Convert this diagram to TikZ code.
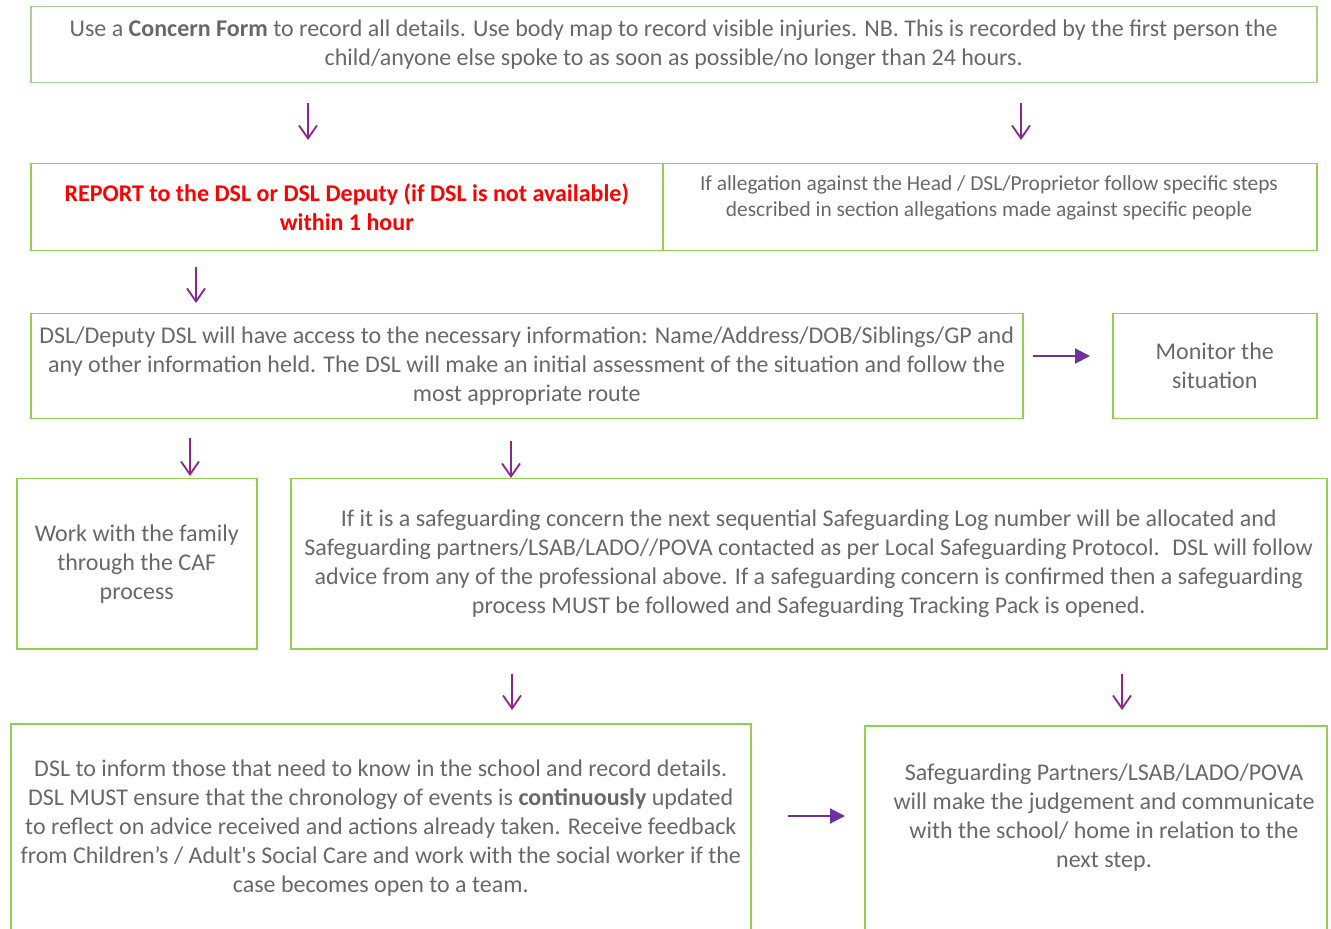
\documentclass[tikz,border=0pt]{standalone}
\usepackage{fontspec}
\setmainfont{Carlito}
\usetikzlibrary{arrows.meta, positioning, calc}
\definecolor{sgtext}{HTML}{686868}
\definecolor{sgpale}{HTML}{A9D18E}
\definecolor{sggreen}{HTML}{92D050}
\definecolor{sgred}{HTML}{FF0000}
\definecolor{sgplum}{HTML}{8E248E}
\definecolor{sgpurple}{HTML}{7030A0}

\begin{document}
\begin{tikzpicture}[
    x=0.5pt, y=-0.5pt,
    box/.style={
        rectangle,
        draw=#1,
        line width=0.75pt,
        anchor=north west,
        inner sep=0pt,
        align=center,
        text=sgtext,
        font=\fontsize{12}{14.5}\selectfont
    },
    box/.default=sggreen,
    txt/.style={
        align=center,
        inner sep=0pt,
        text=sgtext,
        font=\fontsize{12}{14.5}\selectfont
    },
    down/.style={
        -{Straight Barb[length=6.5pt, width=9pt, line width=0.9pt]},
        line width=0.9pt,
        sgplum
    },
    across/.style={
        -{Triangle[length=7.5pt, width=7.5pt]},
        line width=1pt,
        sgpurple
    }
]
\useasboundingbox (0,0) rectangle (1331,929);

% Boxes
\node[box=sgpale, minimum width=643pt, minimum height=38pt] (form) at (30,6) {
Use a \textbf{Concern Form} to record all details. Use body map to record visible injuries. NB. This is recorded by the first person the\\
child/anyone else spoke to as soon as possible/no longer than 24 hours.
};

\node[box, minimum width=316pt, minimum height=43.5pt, text=sgred, font=\fontsize{12}{14.5}\selectfont\bfseries] (report) at (30,163) {
REPORT to the DSL or DSL Deputy (if DSL is not available)\\
within 1 hour
};

\node[box, minimum width=327pt, minimum height=43.5pt] (allegation) at (662,163) {};
\node[txt, font=\fontsize{10.7}{13}\selectfont] (allegation-text) at (989,198) {
If allegation against the Head / DSL/Proprietor follow specific steps\\
described in section allegations made against specific people
};

\node[box, minimum width=496pt, minimum height=52.5pt] (dsl) at (30,313) {
DSL/Deputy DSL will have access to the necessary information: Name/Address/DOB/Siblings/GP and\\
any other information held. The DSL will make an initial assessment of the situation and follow the\\
most appropriate route
};

\node[box, minimum width=102pt, minimum height=52.5pt] (monitor) at (1112,313) {
Monitor the\\
situation
};

\node[box, minimum width=120pt, minimum height=85pt] (family) at (16,478) {
Work with the family\\
through the CAF\\
process
};

\node[box, minimum width=518pt, minimum height=85pt] (concern) at (290,478) {
If it is a safeguarding concern the next sequential Safeguarding Log number will be allocated and\\
Safeguarding partners/LSAB/LADO//POVA contacted as per Local Safeguarding Protocol.~ DSL will follow\\
advice from any of the professional above. If a safeguarding concern is confirmed then a safeguarding\\
process MUST be followed and Safeguarding Tracking Pack is opened.
};

\node[box, minimum width=370pt, minimum height=104.5pt] (inform) at (10,723) {
DSL to inform those that need to know in the school and record details.\\
DSL MUST ensure that the chronology of events is \textbf{continuously} updated\\
to reflect on advice received and actions already taken. Receive feedback\\
from Children’s / Adult\textquotesingle s Social Care and work with the social worker if the\\
case becomes open to a team.
};

\node[box, minimum width=231pt, minimum height=110pt] (partners) at (864,725) {};
\node[txt] (partners-text) at (1104,817.5) {
Safeguarding Partners/LSAB/LADO/POVA\\
will make the judgement and communicate\\
with the school/ home in relation to the\\
next step.
};

% Arrows
\draw[down, shorten <=10pt, shorten >=11.5pt] (form.south -| 308,0) -- (report.north -| 308,0);
\draw[down, shorten <=10pt, shorten >=11.5pt] (form.south -| 1021,0) -- (allegation.north -| 1021,0);
\draw[down, shorten <=8pt, shorten >=5pt] (report.south -| 196,0) -- (dsl.north -| 196,0);
\draw[down, shorten <=9.5pt, shorten >=1pt] (dsl.south -| 190,0) -- (family.north -| 190,0);
\draw[down, shorten <=11pt] (dsl.south -| 511,0) -- (concern.north -| 511,0);
\draw[down, shorten <=12pt, shorten >=6.5pt] (concern.south -| 512,0) -- (inform.north -| 512,0);
\draw[down, shorten <=12pt, shorten >=7.5pt] (concern.south -| 1122,0) -- (partners.north -| 1122,0);
\draw[across, shorten <=4.5pt, shorten >=11pt] (dsl.east |- 0,356) -- (monitor.west |- 0,356);
\draw[across, shorten <=18pt, shorten >=9.5pt] (inform.east |- 0,816) -- (partners.west |- 0,816);

\end{tikzpicture}
\end{document}
